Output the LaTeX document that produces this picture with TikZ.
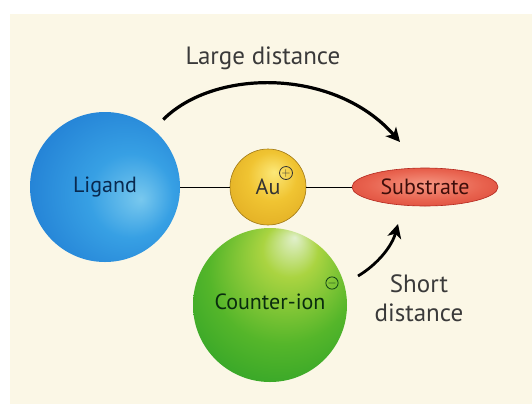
\documentclass[tikz,border=0pt]{standalone}
\usepackage{fontspec}
\setmainfont{PT Sans}
\usetikzlibrary{arrows.meta,positioning,shapes.geometric}
\definecolor{cream}{RGB}{251,247,230}
\definecolor{labeltext}{RGB}{58,58,58}
\definecolor{ligedge}{RGB}{20,90,175}
\definecolor{auedge}{RGB}{160,120,20}
\definecolor{subedge}{RGB}{180,40,30}
\definecolor{ciedge}{RGB}{25,125,40}
\pgfdeclareradialshading{ligshade}{\pgfpoint{12bp}{-4bp}}{%
  color(0bp)=(rgb,255:red,120;green,200;blue,238);
  color(14bp)=(rgb,255:red,55;green,160;blue,228);
  color(38bp)=(rgb,255:red,28;green,118;blue,208);
  color(50bp)=(rgb,255:red,16;green,75;blue,160)}
\pgfdeclareradialshading{aushade}{\pgfpoint{4bp}{10bp}}{%
  color(0bp)=(rgb,255:red,252;green,232;blue,120);
  color(16bp)=(rgb,255:red,240;green,196;blue,50);
  color(40bp)=(rgb,255:red,220;green,165;blue,30);
  color(50bp)=(rgb,255:red,160;green,110;blue,20)}
\pgfdeclareradialshading{subshade}{\pgfpoint{0bp}{4bp}}{%
  color(0bp)=(rgb,255:red,245;green,150;blue,130);
  color(20bp)=(rgb,255:red,232;green,98;blue,78);
  color(40bp)=(rgb,255:red,212;green,60;blue,45);
  color(50bp)=(rgb,255:red,170;green,35;blue,28)}
\pgfdeclareradialshading{cishade}{\pgfpoint{8bp}{22bp}}{%
  color(0bp)=(rgb,255:red,225;green,240;blue,205);
  color(9bp)=(rgb,255:red,170;green,212;blue,65);
  color(24bp)=(rgb,255:red,85;green,182;blue,42);
  color(40bp)=(rgb,255:red,38;green,158;blue,40);
  color(50bp)=(rgb,255:red,22;green,115;blue,38)}

\begin{document}
\begin{tikzpicture}[
  x=1pt, y=-1pt,
  ball/.style={circle, inner sep=0pt, shade, font=\fontsize{22}{26}\selectfont},
  sign/.style={circle, draw, line width=0.8pt, inner sep=0pt, minimum size=13pt, font=\fontsize{12}{12}\selectfont},
  lbl/.style={text=labeltext, font=\fontsize{25}{29}\selectfont, align=center},
  link/.style={line width=1pt, black},
  arr/.style={-{Stealth[length=14pt,width=14pt,inset=4pt]}, line width=3.2pt, black},
]
% background
\useasboundingbox (0,0) rectangle (532,405);
\fill[white] (0,0) rectangle (532,405);
\fill[cream] (10,14) rectangle (532,404);

% particles
\node[ball, shading=ligshade, minimum size=150pt, text=ligedge!45!black] (lig) at (105,187) {Ligand};
\node[ball, shading=aushade, draw=auedge, line width=0.6pt, minimum size=76pt, text=black!80] (au) at (268,187) {Au};
\node[ball, ellipse, shading=subshade, draw=subedge, line width=0.6pt, minimum width=146pt, minimum height=38pt, text=subedge!35!black] (sub) at (425,187) {Substrate};
\node[ball, shading=cishade, minimum size=154pt, text=ciedge!35!black] (ci) at (270,305) {\raisebox{6pt}{Counter-ion}\hspace{10pt}};

% charges
\node[sign, draw=black!80, text=black!80] (plus) at ([shift={(18,-14)}]au.center) {$+$};
\node[sign, draw=ciedge!50!black, text=ciedge!50!black, minimum size=11pt] (minus) at ([shift={(62,-22)}]ci.center) {$-$};

% bonds
\draw[link] (lig) -- (au);
\draw[link] (au) -- (sub);

% distances
\coordinate (largetip) at (400,142);
\draw[arr] (lig.50) [shorten <=14pt] .. controls (215,68) and (335,68) .. (largetip);
\node[lbl] (large) at (263,58) {Large distance};

\coordinate (shortstart) at (358,276);
\coordinate (shorttip) at (398,224);
\draw[arr, line width=2.8pt] (shortstart) .. controls (378,264) and (392,246) .. (shorttip);
\node[lbl] (short) at (419,298) {Short\\distance};
\end{tikzpicture}
\end{document}
